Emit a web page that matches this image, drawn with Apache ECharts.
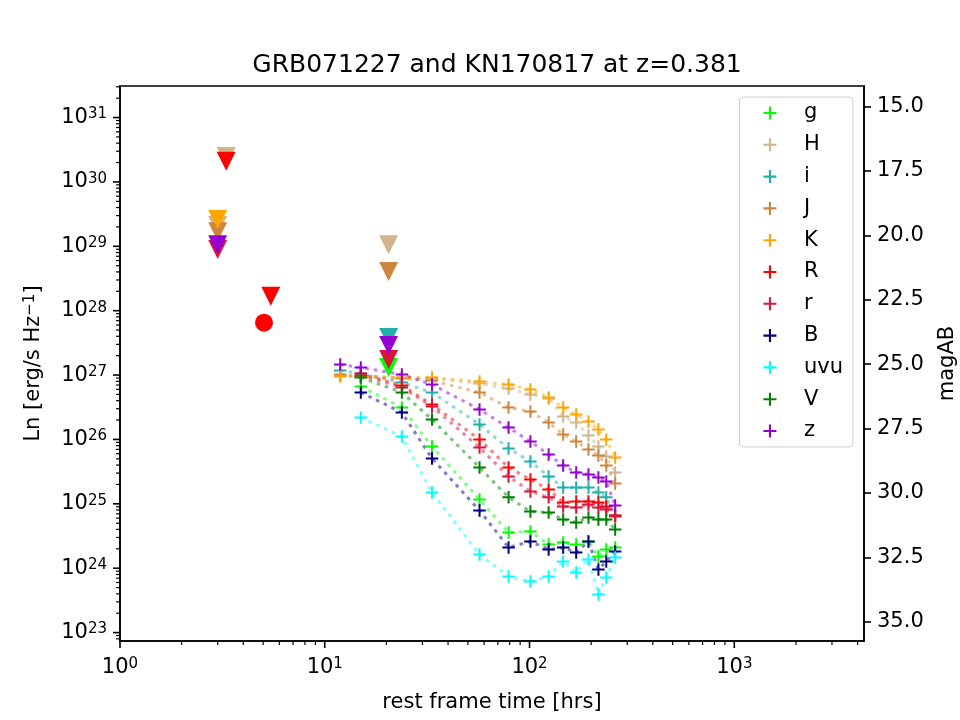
<!DOCTYPE html>
<html>
<head>
<meta charset="utf-8">
<title>GRB071227 and KN170817 at z=0.381</title>
<script src="https://cdn.jsdelivr.net/npm/echarts@6/dist/echarts.min.js"></script>
<style>
  html, body { margin: 0; padding: 0; background: #fff; }
  #chart { width: 960px; height: 720px; }
</style>
</head>
<body>
<div id="chart"></div>
<script>
// rest frame times [hrs] of the kilonova samples
const times = [11.9, 15.0, 23.8, 33.4, 57, 79, 101, 124, 146, 169, 194, 217, 237, 262];

const bands = ['g', 'H', 'i', 'J', 'K', 'R', 'r', 'B', 'uvu', 'V', 'z'];
const bandColors = ['#00ff00', '#d2b48c', '#20b2aa', '#cd853f', '#ffa500', '#ff0000',
                    '#dc143c', '#000080', '#00ffff', '#008000', '#9400d3'];

// Ln [erg/s/Hz] per band at the times above (null = no sample)
const lnG   = [null, 6.64e26, 3.13e26, 7.78e25, 1.17e25, 3.59e24, 3.72e24, 2.33e24, 2.51e24, 2.33e24, 2.60e24, 1.52e24, 1.95e24, 2.10e24];
const lnH   = [9.85e26, 9.50e26, 9.16e26, 8.85e26, 7.39e26, 6.18e26, 4.99e26, 4.33e26, 2.27e26, 1.83e26, 1.15e26, 7.78e25, 5.44e25, 3.07e25];
const lnI   = [1.18e27, 1.06e27, 7.66e26, 5.36e26, 1.71e26, 7.24e25, 4.55e25, 2.66e25, 1.79e25, 1.79e25, 1.79e25, 1.50e25, 1.26e25, 6.59e24];
const lnJ   = [1.02e27, 9.50e26, 8.85e26, 8.22e26, 5.36e26, 3.13e26, 2.72e26, 1.83e26, 1.19e26, 9.29e25, 6.98e25, 5.64e25, 3.94e25, 2.07e25];
const lnK   = [9.50e26, 9.50e26, 9.16e26, 9.16e26, 7.94e26, 7.13e26, 5.97e26, 4.48e26, 3.13e26, 2.44e26, 1.90e26, 1.43e26, 9.98e25, 5.25e25];
const lnR   = [null, 1.06e27, 6.89e26, 3.49e26, 9.98e25, 3.67e25, 2.39e25, 1.67e25, 1.05e25, 1.09e25, 1.09e25, 1.05e25, 9.10e24, 6.59e24];
const lnr   = [null, 9.85e26, 6.41e26, 3.25e26, 7.50e25, 2.66e25, 1.56e25, 1.26e25, 9.10e24, 8.77e24, 9.77e24, 8.77e24, 8.17e24, 6.37e24];
const lnB   = [null, 5.36e26, 2.62e26, 5.06e25, 7.89e24, 2.10e24, 2.60e24, 1.95e24, 2.10e24, 1.75e24, 2.60e24, 9.57e23, 1.27e24, 1.82e24];
const lnUvu = [null, 2.19e26, 1.11e26, 1.50e25, 1.63e24, 7.45e23, 6.22e23, 7.45e23, 1.27e24, 8.59e23, 1.37e24, 3.91e23, 7.18e23, 1.47e24];
const lnV   = [null, 9.16e26, 5.36e26, 2.04e26, 3.67e25, 1.26e25, 7.60e24, 7.35e24, 5.71e24, 5.13e24, 6.14e24, 5.71e24, 5.71e24, 4.00e24];
const lnZ   = [1.46e27, 1.31e27, 1.02e27, 7.13e26, 2.92e26, 1.53e26, 9.29e25, 5.84e25, 3.94e25, 3.07e25, 2.86e25, 2.57e25, 2.22e25, 9.42e24];

// GRB071227 upper limits [t, Ln]
const limG = [[20.5, 1.31e27]];
const limH = [[3.0, 2.10e29], [3.3, 2.48e30], [20.5, 1.06e29]];
const limI = [[20.5, 3.83e27]];
const limJ = [[3.0, 1.69e29], [20.5, 4.06e28]];
const limK = [[3.0, 2.60e29]];
const limR = [[3.3, 2.09e30], [5.45, 1.67e28]];
const limr = [[3.0, 8.9e28], [20.5, 1.75e27]];
const limZ = [[3.0, 1.06e29], [20.5, 2.88e27]];
// GRB071227 detection
const detR = [[5.05, 6.5e27]];

// ticks
const xTicks = [1, 10, 100, 1000];
const yTicks = [1e23, 1e24, 1e25, 1e26, 1e27, 1e28, 1e29, 1e30, 1e31];
const magTicks = [15, 17.5, 20, 22.5, 25, 27.5, 30, 32.5, 35];

const X_MIN = 1, X_MAX = 4300;
const Y_MIN = 7.4e22, Y_MAX = 3.09e31;
const MAG_MIN = 14.2, MAG_MAX = 35.75;

const FONT = 'DejaVu Sans';
const PLUS = 'path://M5.25,0H7.25V5.25H12.5V7.25H7.25V12.5H5.25V7.25H0V5.25H5.25Z';

const lnByBand = { g: lnG, H: lnH, i: lnI, J: lnJ, K: lnK, R: lnR, r: lnr, B: lnB, uvu: lnUvu, V: lnV, z: lnZ };
const limByBand = { g: limG, H: limH, i: limI, J: limJ, K: limK, R: limR, r: limr, z: limZ };

function minorTicks(lo, hi, d0, d1) {
  const out = [];
  for (let d = d0; d <= d1; d++) {
    for (let m = 2; m <= 9; m++) {
      const v = m * Math.pow(10, d);
      if (v >= lo && v <= hi) out.push(v);
    }
  }
  return out;
}

// draws axis tick marks through the axis scales
function tickSeries(values, onX, len, width) {
  return {
    type: 'custom',
    silent: true,
    clip: false,
    z: 10,
    data: values.map(function (v) { return onX ? [v, Y_MIN] : [X_MIN, v]; }),
    renderItem: function (params, api) {
      const p = api.coord([api.value(0), api.value(1)]);
      return {
        type: 'line',
        shape: onX ? { x1: p[0], y1: p[1], x2: p[0], y2: p[1] + len }
                   : { x1: p[0], y1: p[1], x2: p[0] - len, y2: p[1] },
        style: { stroke: '#000', lineWidth: width }
      };
    }
  };
}

const expRich = {
  b: { fontSize: 21, fontFamily: FONT, color: '#000', lineHeight: 21, padding: [6, 0, 0, 0], verticalAlign: 'bottom' },
  s: { fontSize: 15, fontFamily: FONT, color: '#000', lineHeight: 15, verticalAlign: 'top' }
};
function powLabel(v) {
  return '{b|10}{s|' + Math.round(Math.log10(v)) + '}';
}

const series = [];
bands.forEach(function (b, k) {
  const color = bandColors[k];
  const vals = lnByBand[b];
  const pts = [];
  times.forEach(function (t, i) { if (vals[i] != null) pts.push([t, vals[i]]); });
  series.push({
    name: b,
    type: 'line',
    data: pts,
    symbol: PLUS,
    symbolSize: 12.5,
    showAllSymbol: true,
    itemStyle: { color: color },
    lineStyle: { color: color, width: 3, type: [3.5, 5], opacity: 0.5 },
    emphasis: { disabled: true }
  });
  if (limByBand[b]) {
    series.push({
      name: b,
      type: 'scatter',
      data: limByBand[b],
      symbol: 'triangle',
      symbolRotate: 180,
      symbolSize: 19,
      itemStyle: { color: color, opacity: 1 },
      emphasis: { disabled: true }
    });
  }
  if (b === 'R') {
    series.push({
      name: b,
      type: 'scatter',
      data: detR,
      symbol: 'circle',
      symbolSize: 18,
      itemStyle: { color: color, opacity: 1 },
      emphasis: { disabled: true }
    });
  }
});

series.push(tickSeries(xTicks, true, 7, 1.6));
series.push(tickSeries(minorTicks(X_MIN, X_MAX, 0, 3), true, 4, 1.2));
series.push(tickSeries(yTicks, false, 7, 1.6));
series.push(tickSeries(minorTicks(Y_MIN, Y_MAX, 22, 31), false, 4, 1.2));

const chart = echarts.init(document.getElementById('chart'));
chart.setOption({
  animation: false,
  backgroundColor: '#fff',
  title: {
    text: 'GRB071227 and KN170817 at z=0.381',
    left: 492,
    top: 48,
    textAlign: 'center',
    textStyle: { fontSize: 25, fontWeight: 'normal', fontFamily: FONT, color: '#000', lineHeight: 25 }
  },
  legend: {
    data: bands.map(function (b) { return { name: b, icon: PLUS }; }),
    orient: 'vertical',
    right: 107,
    top: 97,
    itemWidth: 42,
    itemHeight: 13,
    itemGap: 9.8,
    padding: [5, 10, 5, 24],
    borderColor: '#cccccc',
    borderWidth: 1,
    borderRadius: 4,
    backgroundColor: 'rgba(255,255,255,0.8)',
    selectedMode: false,
    textStyle: { fontSize: 21, fontFamily: FONT, color: '#000', lineHeight: 22, padding: [0, 0, 0, 8] }
  },
  grid: {
    left: 120, top: 86, width: 744, height: 555,
    containLabel: false,
    outerBoundsMode: 'none',
    show: true, borderColor: '#000', borderWidth: 1.6, backgroundColor: 'transparent'
  },
  xAxis: {
    type: 'log',
    logBase: 10,
    min: X_MIN,
    max: X_MAX,
    name: 'rest frame time [hrs]',
    nameLocation: 'middle',
    nameGap: 51,
    nameTextStyle: { fontSize: 21, fontFamily: FONT, color: '#000' },
    axisLine: { lineStyle: { color: '#000', width: 1.6 } },
    axisTick: { show: false },
    splitLine: { show: false },
    axisLabel: { margin: 16, showMinLabel: true, showMaxLabel: false, formatter: powLabel, rich: expRich }
  },
  yAxis: [{
    type: 'log',
    logBase: 10,
    min: Y_MIN,
    max: Y_MAX,
    name: '{n|Ln [erg/s Hz}{s|\u22121}{n|]}',
    nameLocation: 'middle',
    nameRotate: 90,
    nameGap: 76,
    nameTextStyle: {
      rich: {
        n: { fontSize: 21, fontFamily: FONT, color: '#000', lineHeight: 21, padding: [5, 0, 0, 0], verticalAlign: 'bottom' },
        s: { fontSize: 15, fontFamily: FONT, color: '#000', lineHeight: 15, verticalAlign: 'top' }
      }
    },
    axisLine: { lineStyle: { color: '#000', width: 1.6 } },
    axisTick: { show: false },
    splitLine: { show: false },
    axisLabel: { margin: 13, showMinLabel: false, showMaxLabel: false, formatter: powLabel, rich: expRich }
  }, {
    type: 'value',
    position: 'right',
    inverse: true,
    min: MAG_MIN,
    max: MAG_MAX,
    name: 'magAB',
    nameLocation: 'middle',
    nameRotate: 90,
    nameGap: 73,
    nameTextStyle: { fontSize: 21, fontFamily: FONT, color: '#000' },
    axisLine: { show: true, lineStyle: { color: '#000', width: 1.6 } },
    axisTick: { show: true, length: 7, customValues: magTicks, lineStyle: { color: '#000', width: 1.6 } },
    splitLine: { show: false },
    axisLabel: {
      margin: 13, customValues: magTicks, fontSize: 21, fontFamily: FONT, color: '#000',
      formatter: function (v) { return v.toFixed(1); }
    }
  }],
  series: series
});
</script>
</body>
</html>
